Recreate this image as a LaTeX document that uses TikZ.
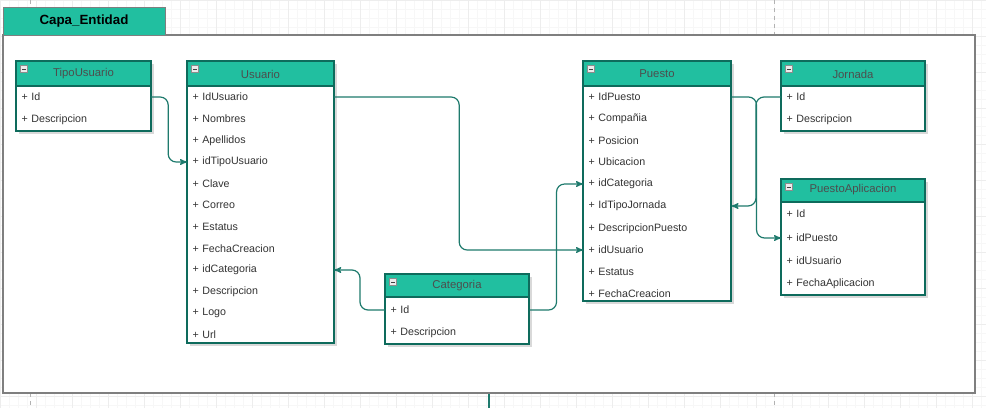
\documentclass[tikz,border=0pt]{standalone}
\usepackage{fontspec}
\setmainfont{Liberation Sans}
\usepackage{tikz}
\usetikzlibrary{arrows}
\usetikzlibrary{positioning}
\definecolor{headteal}{HTML}{21BFA0}
\definecolor{bordteal}{HTML}{0E6B5C}
\definecolor{linkteal}{HTML}{1E7A6D}
\definecolor{headtext}{HTML}{4D4D4D}
\definecolor{rowtext}{HTML}{333333}
\definecolor{framegray}{HTML}{7F7F7F}
\tikzset{gridminor/.style = {draw=black!3, line width = 0.3pt}}
\tikzset{gridmajor/.style = {draw=black!7, line width = 0.4pt}}
\tikzset{pagebreak/.style = {draw=black!30, dashed, line width = 0.5pt}}
\tikzset{frame/.style = {fill=white, draw=framegray, line width = 1.5pt}}
\tikzset{tabbox/.style = {fill=headteal, draw=framegray, line width = 0.4pt}}
\tikzset{shade/.style = {fill=black!15}}
\tikzset{classbody/.style = {fill=white, draw=bordteal, line width = 1.5pt}}
\tikzset{classhead/.style = {fill=headteal, draw=bordteal, line width = 1.5pt}}
\tikzset{headtitle/.style = {text=headtext, inner sep = 0, font=\fontsize{8.5}{10}\selectfont}}
\tikzset{attr/.style = {anchor=west, inner xsep = 4pt, inner ysep = 0pt, text width = #1, align=left, text=rowtext, font=\fontsize{8}{9.6}\selectfont}}
\tikzset{attr/.default = 100pt}
\tikzset{icon/.style = {fill=black!8, draw=black!45, line width = 0.3pt, inner sep = 0, minimum size = 5pt,
    path picture = {\draw[black!75, line width = 0.6pt] ([xshift=1pt]path picture bounding box.west) -- ([xshift=-1pt]path picture bounding box.east);}}}
\tikzset{link/.style = {draw=linkteal, line width = 0.9pt, rounded corners = 6pt, -stealth'}}

\begin{document}
\begin{tikzpicture}[x=0.75pt, y=-0.75pt]
      \useasboundingbox (0, 0) rectangle (986, 408);
      \draw[gridminor] (0, 408) grid[step=6.75pt] (986, 0);
      \draw[gridmajor] (0, 408) grid[step=27pt] (986, 0);
      \draw[pagebreak] (30, 0) -- (30, 7);
      \draw[pagebreak] (30, 393) -- (30, 408);
      \draw[pagebreak] (774, 0) -- (774, 35);
      \draw[pagebreak] (774, 393) -- (774, 408);

      \draw[frame] (3, 35) rectangle (975, 393);
      \draw[tabbox] (3, 7) rectangle (165, 35);
      \node [font=\fontsize{10}{12}\selectfont\bfseries] (capa) at (84, 21) {Capa\_Entidad};

      \coordinate (out-a) at (489, 394);
      \coordinate (out-b) at (489, 408);
      \draw[link, -] (out-a) -- (out-b);

      % TipoUsuario
      \fill[shade] (19, 64) rectangle (154, 134);
      \draw[classbody] (16, 61) rectangle (151, 131);
      \draw[classhead] (16, 61) rectangle (151, 86);
      \node [icon] (tu-icon) at (24, 69) {};
      \node [headtitle] (tipousuario) at (83.5, 74) {TipoUsuario};
      \node [attr=93pt] (tu-id) at (16, 97) {+ Id};
      \node [attr=93pt] (tu-desc) at (16, 120) {+ Descripcion};

      % Usuario
      \fill[shade] (190, 64) rectangle (337, 346);
      \draw[classbody] (187, 61) rectangle (334, 343);
      \draw[classhead] (187, 61) rectangle (334, 86);
      \node [icon] (us-icon) at (195, 69) {};
      \node [headtitle] (usuario) at (260.5, 74) {Usuario};
      \node [attr=102pt] (us-idusuario) at (187, 97) {+ IdUsuario};
      \node [attr=102pt] (us-nombres) at (187, 119) {+ Nombres};
      \node [attr=102pt] (us-apellidos) at (187, 141) {+ Apellidos};
      \node [attr=102pt] (us-idtipo) at (187, 162) {+ idTipoUsuario};
      \node [attr=102pt] (us-clave) at (187, 184) {+ Clave};
      \node [attr=102pt] (us-correo) at (187, 205) {+ Correo};
      \node [attr=102pt] (us-estatus) at (187, 227) {+ Estatus};
      \node [attr=102pt] (us-fecha) at (187, 249) {+ FechaCreacion};
      \node [attr=102pt] (us-idcat) at (187, 270) {+ idCategoria};
      \node [attr=102pt] (us-desc) at (187, 292) {+ Descripcion};
      \node [attr=102pt] (us-logo) at (187, 313) {+ Logo};
      \node [attr=102pt] (us-url) at (187, 335) {+ Url};

      % Categoria
      \fill[shade] (388, 277) rectangle (532, 347);
      \draw[classbody] (385, 274) rectangle (529, 344);
      \draw[classhead] (385, 274) rectangle (529, 297);
      \node [icon] (ca-icon) at (393, 282) {};
      \node [headtitle] (categoria) at (457, 286) {Categoria};
      \node [attr=100pt] (ca-id) at (385, 310) {+ Id};
      \node [attr=100pt] (ca-desc) at (385, 333) {+ Descripcion};

      % Puesto
      \fill[shade] (586, 64) rectangle (734, 304);
      \draw[classbody] (583, 61) rectangle (731, 301);
      \draw[classhead] (583, 61) rectangle (731, 86);
      \node [icon] (pu-icon) at (591, 69) {};
      \node [headtitle] (puesto) at (657, 74) {Puesto};
      \node [attr=103pt] (pu-idpuesto) at (583, 97) {+ IdPuesto};
      \node [attr=103pt] (pu-compania) at (583, 119) {+ Compañia};
      \node [attr=103pt] (pu-posicion) at (583, 141) {+ Posicion};
      \node [attr=103pt] (pu-ubicacion) at (583, 162) {+ Ubicacion};
      \node [attr=103pt] (pu-idcat) at (583, 184) {+ idCategoria};
      \node [attr=103pt] (pu-idtipo) at (583, 206) {+ IdTipoJornada};
      \node [attr=103pt] (pu-desc) at (583, 229) {+ DescripcionPuesto};
      \node [attr=103pt] (pu-idusuario) at (583, 250) {+ idUsuario};
      \node [attr=103pt] (pu-estatus) at (583, 272) {+ Estatus};
      \node [attr=103pt] (pu-fecha) at (583, 294) {+ FechaCreacion};

      % Jornada
      \fill[shade] (784, 64) rectangle (928, 134);
      \draw[classbody] (781, 61) rectangle (925, 131);
      \draw[classhead] (781, 61) rectangle (925, 86);
      \node [icon] (jo-icon) at (789, 69) {};
      \node [headtitle] (jornada) at (853, 74) {Jornada};
      \node [attr=100pt] (jo-id) at (781, 97) {+ Id};
      \node [attr=100pt] (jo-desc) at (781, 120) {+ Descripcion};

      % PuestoAplicacion
      \fill[shade] (784, 182) rectangle (928, 298);
      \draw[classbody] (781, 179) rectangle (925, 295);
      \draw[classhead] (781, 179) rectangle (925, 202);
      \node [icon] (pa-icon) at (789, 187) {};
      \node [headtitle] (puestoapl) at (853, 190) {PuestoAplicacion};
      \node [attr=100pt] (pa-id) at (781, 214) {+ Id};
      \node [attr=100pt] (pa-idpuesto) at (781, 238) {+ idPuesto};
      \node [attr=100pt] (pa-idusuario) at (781, 261) {+ idUsuario};
      \node [attr=100pt] (pa-fecha) at (781, 284) {+ FechaAplicacion};

      \draw[link] (tu-id.east) -- ++(17, 0) |- (us-idtipo.west);
      \draw[link] (ca-id.west) -- ++(-25, 0) |- (us-idcat.east);
      \draw[link] (us-idusuario.east) -- ++(125, 0) |- (pu-idusuario.west);
      \draw[link] (ca-id.east) -- ++(27, 0) |- (pu-idcat.west);
      \draw[link] (jo-id.west) -- ++(-25, 0) |- (pu-idtipo.east);
      \draw[link] (pu-idpuesto.east) -- ++(25, 0) |- (pa-idpuesto.west);
\end{tikzpicture}
\end{document}
